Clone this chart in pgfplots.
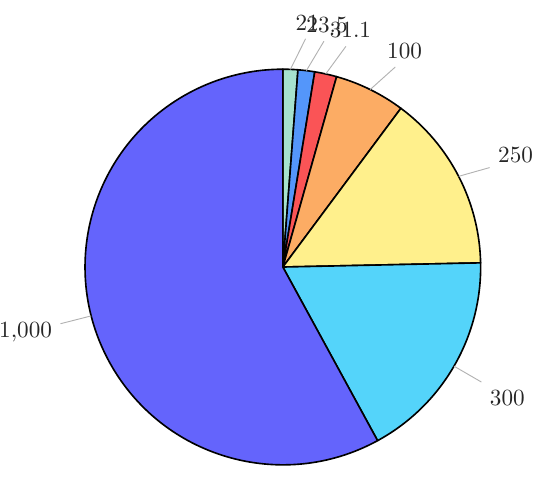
\documentclass[border=0pt]{standalone}
\usepackage{pgfplots}
\pgfplotsset{compat=1.18}
\usepackage{pgfplotstable}

\definecolor{cteal}{RGB}{166,226,206}
\definecolor{cblue}{RGB}{84,150,250}
\definecolor{cred}{RGB}{250,84,86}
\definecolor{corange}{RGB}{252,172,100}
\definecolor{cyellow}{RGB}{255,240,140}
\definecolor{ccyan}{RGB}{84,212,250}
\definecolor{cviolet}{RGB}{100,100,252}

\pgfplotstableread{
value color
21 cteal
23.5 cblue
31.1 cred
100 corange
250 cyellow
300 ccyan
1000 cviolet
}\piedata

\begin{document}
\begin{tikzpicture}
% sum of all slices
\gdef\total{0}
\pgfplotstableforeachcolumnelement{value}\of\piedata\as\v{%
  \pgfmathparse{\total+\v}\xdef\total{\pgfmathresult}}
\pgfplotstablegetrowsof{\piedata}
\pgfmathtruncatemacro\lastrow{\pgfplotsretval-1}
\xdef\cur{90}

\begin{axis}[
  x=3cm, y=3cm,
  xmin=-1.43, xmax=1.30, ymin=-1.06, ymax=1.35,
  hide axis, clip=false,
]
\path[use as bounding box] (rel axis cs:0,0) rectangle (rel axis cs:1,1);
\pgfplotsinvokeforeach{0,...,\lastrow}{
  \pgfplotstablegetelem{#1}{value}\of\piedata \let\v\pgfplotsretval
  \pgfplotstablegetelem{#1}{color}\of\piedata \let\c\pgfplotsretval
  \pgfmathsetmacro\b{\cur-360*(\v/\total)}
  \pgfmathsetmacro\m{(\cur+\b)/2}
  % labels near the top lean a little clockwise, as pins do
  \pgfmathsetmacro\la{\m-3.5*max(0,sin(\m))}
  \pgfmathsetmacro\anc{\la+180}
  \edef\tmp{%
    \noexpand\filldraw[fill=\c, draw=black, line width=0.7pt, line join=round]
      (0,0) -- ({cos(\cur)},{sin(\cur)}) arc[start angle=\cur, end angle=\b, radius=3cm] -- cycle;
    \noexpand\draw[gray!60, line width=0.4pt] ({cos(\m)},{sin(\m)}) -- ({1.16*cos(\la)},{1.16*sin(\la)});
    \noexpand\node[anchor=\anc, inner sep=3.5pt, text=black!85] at ({1.16*cos(\la)},{1.16*sin(\la)}) {\noexpand\pgfmathprintnumber{\v}};
  }
  \tmp
  \xdef\cur{\b}
}
\end{axis}
\end{tikzpicture}
\end{document}
